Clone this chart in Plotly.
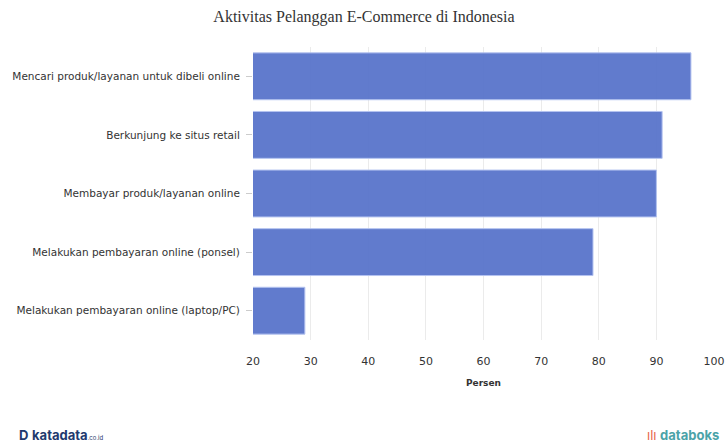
import plotly.graph_objects as go

categories = [
    "Mencari produk/layanan untuk dibeli online",
    "Berkunjung ke situs retail",
    "Membayar produk/layanan online",
    "Melakukan pembayaran online (ponsel)",
    "Melakukan pembayaran online (laptop/PC)",
]
values = [96, 91, 90, 79, 29]
tick_vals = [20, 30, 40, 50, 60, 70, 80, 90, 100]

W, H = 728, 443
L, R, T, B = 253, 14, 47, 103

fig = go.Figure()
fig.add_trace(go.Bar(
    y=categories,
    x=values,
    orientation="h",
    width=0.8,
    marker=dict(color="rgba(84,112,201,0.92)", line=dict(color="rgba(180,195,240,1)", width=1)),
    hoverinfo="x+y",
))

pw = W - L - R
ph = H - T - B

fig.update_layout(
    width=W, height=H,
    margin=dict(l=L, r=R, t=T, b=B, autoexpand=False),
    paper_bgcolor="white", plot_bgcolor="white",
    title=dict(text="Aktivitas Pelanggan E-Commerce di Indonesia", x=364 / W, xanchor="center",
               y=1 - 16 / H, yanchor="middle",
               font=dict(family="Liberation Serif", size=16, color="#333")),
    font=dict(family="DejaVu Sans", size=10.5, color="#333"),
    showlegend=False,
)
fig.update_xaxes(
    range=[20, 100], tickvals=tick_vals, showgrid=True, gridcolor="#ebebeb", gridwidth=1,
    zeroline=False, showline=False, ticks="", tickfont=dict(size=11, color="#333"),
    ticklabelstandoff=13, automargin=False,
    title=dict(text="<b>Persen</b>", font=dict(size=9, color="#333"), standoff=12),
)
fig.update_yaxes(
    categoryorder="array", categoryarray=categories[::-1], showgrid=False,
    ticks="outside", ticklen=6, tickcolor="#cccccc", tickwidth=1,
    ticklabelstandoff=4,
    tickfont=dict(size=10.5, color="#333"), automargin=False,
)

fig.add_annotation(
    text="<b>D</b> <b>katadata</b><span style='font-size:6px'>.co.id</span>",
    xref="paper", yref="paper", x=(17 - L) / pw, y=(H - B - 435) / ph, xanchor="left", yanchor="middle",
    showarrow=False, font=dict(family="Inter", size=13, color="#1f3a6e"),
)
fig.add_annotation(
    text="<span style='color:#e8674a'>ılı</span> <b>databoks</b>",
    xref="paper", yref="paper", x=(721 - L) / pw, y=(H - B - 435) / ph, xanchor="right", yanchor="middle",
    showarrow=False, font=dict(family="Inter", size=13, color="#4aa3a8"),
)

fig.write_html(
    "out.html",
    config={"displayModeBar": False},
    post_script="document.documentElement.style.overflow='hidden';document.body.style.margin='0px';document.body.style.overflow='hidden';",
)
